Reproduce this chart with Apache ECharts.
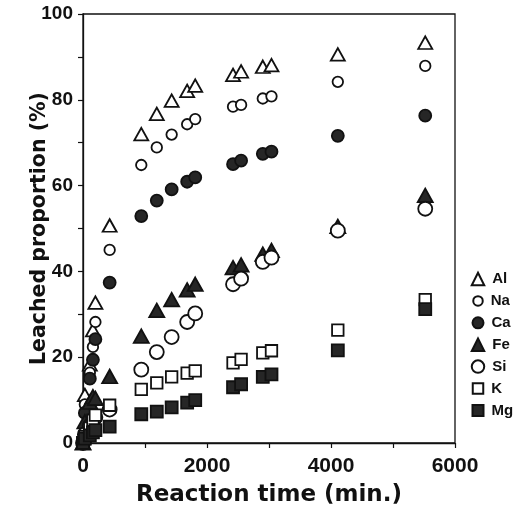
<!DOCTYPE html>
<html>
<head>
<meta charset="utf-8">
<script src="https://cdn.jsdelivr.net/npm/echarts@6/dist/echarts.min.js"></script>
<style>
  html, body { margin: 0; padding: 0; background: #fff; }
  #chart-container { width: 522px; height: 520px; }
</style>
</head>
<body>
<div id="chart-container"></div>
<script>
// reaction times (min.) shared by every element
const times = [0, 30, 110, 160, 200, 430, 940, 1190, 1430, 1680, 1810, 2420, 2550, 2900, 3040, 4110, 5520];

// leached proportion (%) per element
const al = [0, 11.2, 18.3, 26.3, 32.7, 50.7, 72.0, 76.7, 79.8, 82.1, 83.3, 85.8, 86.6, 87.7, 88.1, 90.6, 93.3];
const na = [0, 9.0, 16.4, 22.4, 28.2, 45.0, 64.8, 68.9, 71.9, 74.3, 75.5, 78.4, 78.8, 80.3, 80.8, 84.2, 87.9];
const ca = [0, 7.0, 15.0, 19.4, 24.2, 37.4, 52.9, 56.5, 59.1, 60.9, 61.9, 65.0, 65.8, 67.4, 67.9, 71.6, 76.3];
const fe = [0, 5.0, 9.5, 10.8, 10.4, 15.5, 24.9, 30.9, 33.4, 35.7, 37.0, 40.9, 41.5, 44.0, 44.9, 50.5, 57.7];
const si = [0, 2.0, 4.0, 5.0, 6.0, 7.8, 17.1, 21.2, 24.7, 28.2, 30.2, 37.0, 38.3, 42.2, 43.2, 49.5, 54.6];
const k  = [0, 1.5, 3.5, 5.3, 6.5, 8.8, 12.5, 14.0, 15.4, 16.3, 16.8, 18.7, 19.5, 21.0, 21.5, 26.3, 33.4];
const mg = [0, 1.0, 1.8, 2.5, 3.0, 3.8, 6.7, 7.3, 8.3, 9.4, 10.0, 13.0, 13.7, 15.4, 16.0, 21.6, 31.2];

const xTicks = [0, 2000, 4000, 6000];
const yTicks = [0, 20, 40, 60, 80, 100];

const ink = '#111';
const fill = '#262626';
const font = '"Liberation Sans", Arial, sans-serif';
const wideFont = '"DejaVu Sans", sans-serif';

// name, values, symbol, size, filled
const elements = [
  ['Al', al, 'triangle', [14, 12.5], false],
  ['Na', na, 'circle', 10.5, false],
  ['Ca', ca, 'circle', 12, true],
  ['Fe', fe, 'triangle', [15, 13.5], true],
  ['Si', si, 'circle', 14, false],
  ['K',  k,  'rect', 11.5, false],
  ['Mg', mg, 'rect', 12, true]
];

const legendSize = { Al: 12.5, Na: 9.5, Ca: 11, Fe: 12.5, Si: 12.5, K: 10.5, Mg: 11 };

const chart = echarts.init(document.getElementById('chart-container'));

const series = elements.map(([name, vals, symbol, size, filled]) => ({
  name: name,
  type: 'scatter',
  symbol: symbol,
  symbolSize: size,
  clip: false,
  data: times.map((t, i) => [t, vals[i]]),
  itemStyle: {
    color: filled ? fill : '#fff',
    borderColor: ink,
    borderWidth: 1.8,
    opacity: 1
  },
  emphasis: { disabled: true }
}));

// one legend block per element so each icon keeps its own size
const legends = elements.map(([name], i) => {
  const s = legendSize[name];
  return {
    data: [name],
    orient: 'vertical',
    padding: 0,
    left: 477 - s / 2,
    top: 271.5 + i * 21.9,
    itemWidth: s,
    itemHeight: s,
    selectedMode: false,
    textStyle: { fontFamily: font, fontWeight: 'bold', fontSize: 15, color: ink, lineHeight: 15, padding: [0, 0, 0, 3] }
  };
});

const option = {
  backgroundColor: '#fff',
  animation: false,
  grid: {
    left: 83, right: 67, top: 14, bottom: 77,
    show: true, borderColor: ink, borderWidth: 1.3, backgroundColor: 'transparent'
  },
  legend: legends,
  xAxis: {
    type: 'value',
    min: 0, max: 6000, interval: 1000,
    name: 'Reaction time (min.)',
    nameLocation: 'middle',
    nameGap: 41,
    nameMoveOverlap: false,
    nameTextStyle: { fontFamily: wideFont, fontWeight: 'bold', fontSize: 23, color: ink },
    axisLine: { show: true, lineStyle: { color: ink, width: 1.3 } },
    axisTick: { show: true, length: 5, lineStyle: { color: ink, width: 1.2 } },
    axisLabel: {
      margin: 13,
      fontFamily: font, fontWeight: 'bold', fontSize: 21, color: ink,
      formatter: v => (xTicks.includes(v) ? String(v) : '')
    },
    splitLine: { show: false }
  },
  yAxis: {
    type: 'value',
    min: 0, max: 100, interval: 10,
    name: 'Leached proportion (%)',
    nameLocation: 'middle',
    nameGap: 33,
    nameMoveOverlap: false,
    nameTextStyle: { fontFamily: wideFont, fontWeight: 'bold', fontSize: 20.5, color: ink },
    axisLine: { show: true, lineStyle: { color: ink, width: 1.3 } },
    axisTick: { show: true, length: 5, lineStyle: { color: ink, width: 1.2 } },
    axisLabel: {
      margin: 10,
      fontFamily: font, fontWeight: 'bold', fontSize: 19, color: ink,
      formatter: v => (yTicks.includes(v) ? String(v) : '')
    },
    splitLine: { show: false }
  },
  series: series
};

chart.setOption(option);
</script>
</body>
</html>
